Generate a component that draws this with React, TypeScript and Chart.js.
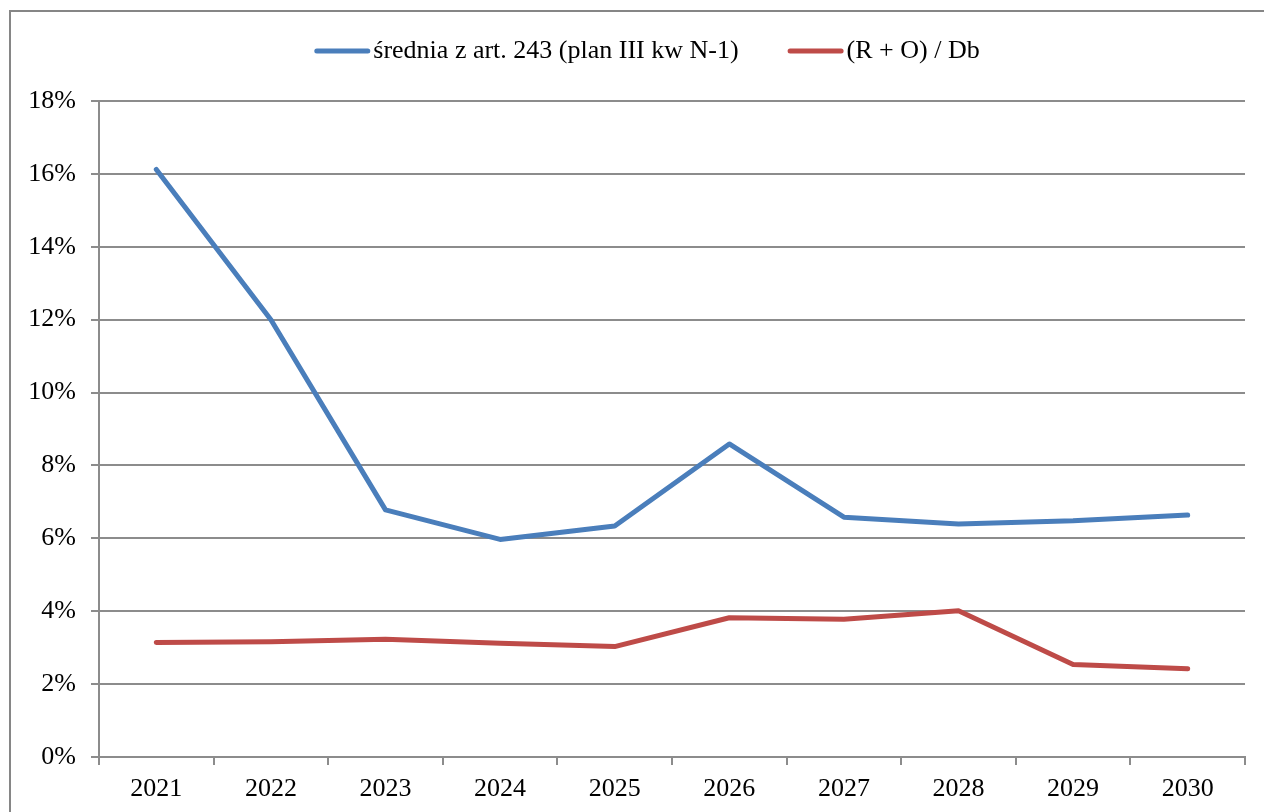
import React, { useEffect, useRef } from "react";
import { Chart, registerables } from "chart.js";

Chart.register(...registerables);

const years = ["2021", "2022", "2023", "2024", "2025", "2026", "2027", "2028", "2029", "2030"];
const sredniaValues = [16.12, 12.0, 6.78, 5.97, 6.34, 8.59, 6.58, 6.39, 6.48, 6.64];
const roDbValues = [3.14, 3.16, 3.23, 3.12, 3.03, 3.82, 3.78, 4.01, 2.54, 2.42];
const seriesLabels = ["średnia z art. 243 (plan III kw N-1)", "(R + O) / Db"];
const seriesColors = ["#4a7ebb", "#be4b48"];

const FONT = '"Liberation Serif", "Times New Roman", serif';
const GRID = "#8c8c8c";

const legendPlugin = {
  id: "customLegend",
  afterDraw(chart: any) {
    const ctx = chart.ctx;
    const lineW = 56;
    const gap = 3;
    const spacing = 49;
    const cy = 51;
    const centerX = 647;
    ctx.save();
    ctx.font = `26px ${FONT}`;
    const items = chart.data.datasets.map((ds: any) => ({
      label: ds.label,
      color: ds.borderColor,
      w: ctx.measureText(ds.label).width,
    }));
    let total = 0;
    items.forEach((it: any, i: number) => {
      total += lineW + gap + it.w + (i < items.length - 1 ? spacing : 0);
    });
    let x = centerX - total / 2;
    items.forEach((it: any) => {
      ctx.strokeStyle = it.color;
      ctx.lineWidth = 5;
      ctx.lineCap = "round";
      ctx.beginPath();
      ctx.moveTo(x + 2.5, cy);
      ctx.lineTo(x + lineW - 2.5, cy);
      ctx.stroke();
      x += lineW + gap;
      ctx.fillStyle = "#000";
      ctx.textBaseline = "middle";
      ctx.textAlign = "left";
      ctx.fillText(it.label, x, cy);
      x += it.w + spacing;
    });
    ctx.restore();
  },
};

export default function App() {
  const ref = useRef<HTMLCanvasElement | null>(null);

  useEffect(() => {
    if (!ref.current) return;
    const chart = new Chart(ref.current, {
      type: "line",
      data: {
        labels: years,
        datasets: [
          {
            label: seriesLabels[0],
            data: sredniaValues,
            borderColor: seriesColors[0],
            backgroundColor: seriesColors[0],
            borderWidth: 5,
            borderCapStyle: "round",
            borderJoinStyle: "round",
            pointRadius: 0,
            tension: 0,
          },
          {
            label: seriesLabels[1],
            data: roDbValues,
            borderColor: seriesColors[1],
            backgroundColor: seriesColors[1],
            borderWidth: 5,
            borderCapStyle: "round",
            borderJoinStyle: "round",
            pointRadius: 0,
            tension: 0,
          },
        ],
      },
      options: {
        animation: false,
        responsive: false,
        maintainAspectRatio: false,
        layout: { padding: { top: 101, right: 19, bottom: 0, left: 0 } },
        plugins: {
          legend: { display: false },
          tooltip: { enabled: false },
        },
        scales: {
          x: {
            type: "category",
            offset: true,
            grid: {
              offset: true,
              drawOnChartArea: false,
              drawTicks: true,
              tickLength: 8,
              color: GRID,
              lineWidth: 2,
            },
            border: { display: true, color: GRID, width: 2 },
            ticks: {
              color: "#000",
              font: { family: FONT, size: 26 },
              padding: 9,
              maxRotation: 0,
              autoSkip: false,
            },
            afterFit(scale: any) {
              scale.height = 55;
            },
          },
          y: {
            min: 0,
            max: 18,
            grid: {
              drawTicks: true,
              tickLength: 8,
              color: GRID,
              lineWidth: 2,
            },
            border: { display: true, color: GRID, width: 2 },
            ticks: {
              stepSize: 2,
              color: "#000",
              font: { family: FONT, size: 26 },
              padding: 15,
              callback: (v: any) => `${v}%`,
            },
            afterFit(scale: any) {
              scale.width = 99;
            },
          },
        },
      },
      plugins: [legendPlugin],
    });
    return () => chart.destroy();
  }, []);

  return (
    <div
      style={{
        position: "fixed",
        left: 0,
        top: 0,
        width: 1264,
        height: 812,
        overflow: "hidden",
        background: "#fff",
      }}
    >
      <div
        style={{
          position: "absolute",
          left: 9,
          top: 10,
          width: 1300,
          height: 900,
          border: "2px solid #868686",
          boxSizing: "border-box",
        }}
      />
      <canvas
        ref={ref}
        width={1264}
        height={812}
        style={{ position: "absolute", left: 0, top: 0, width: 1264, height: 812 }}
      />
    </div>
  );
}
